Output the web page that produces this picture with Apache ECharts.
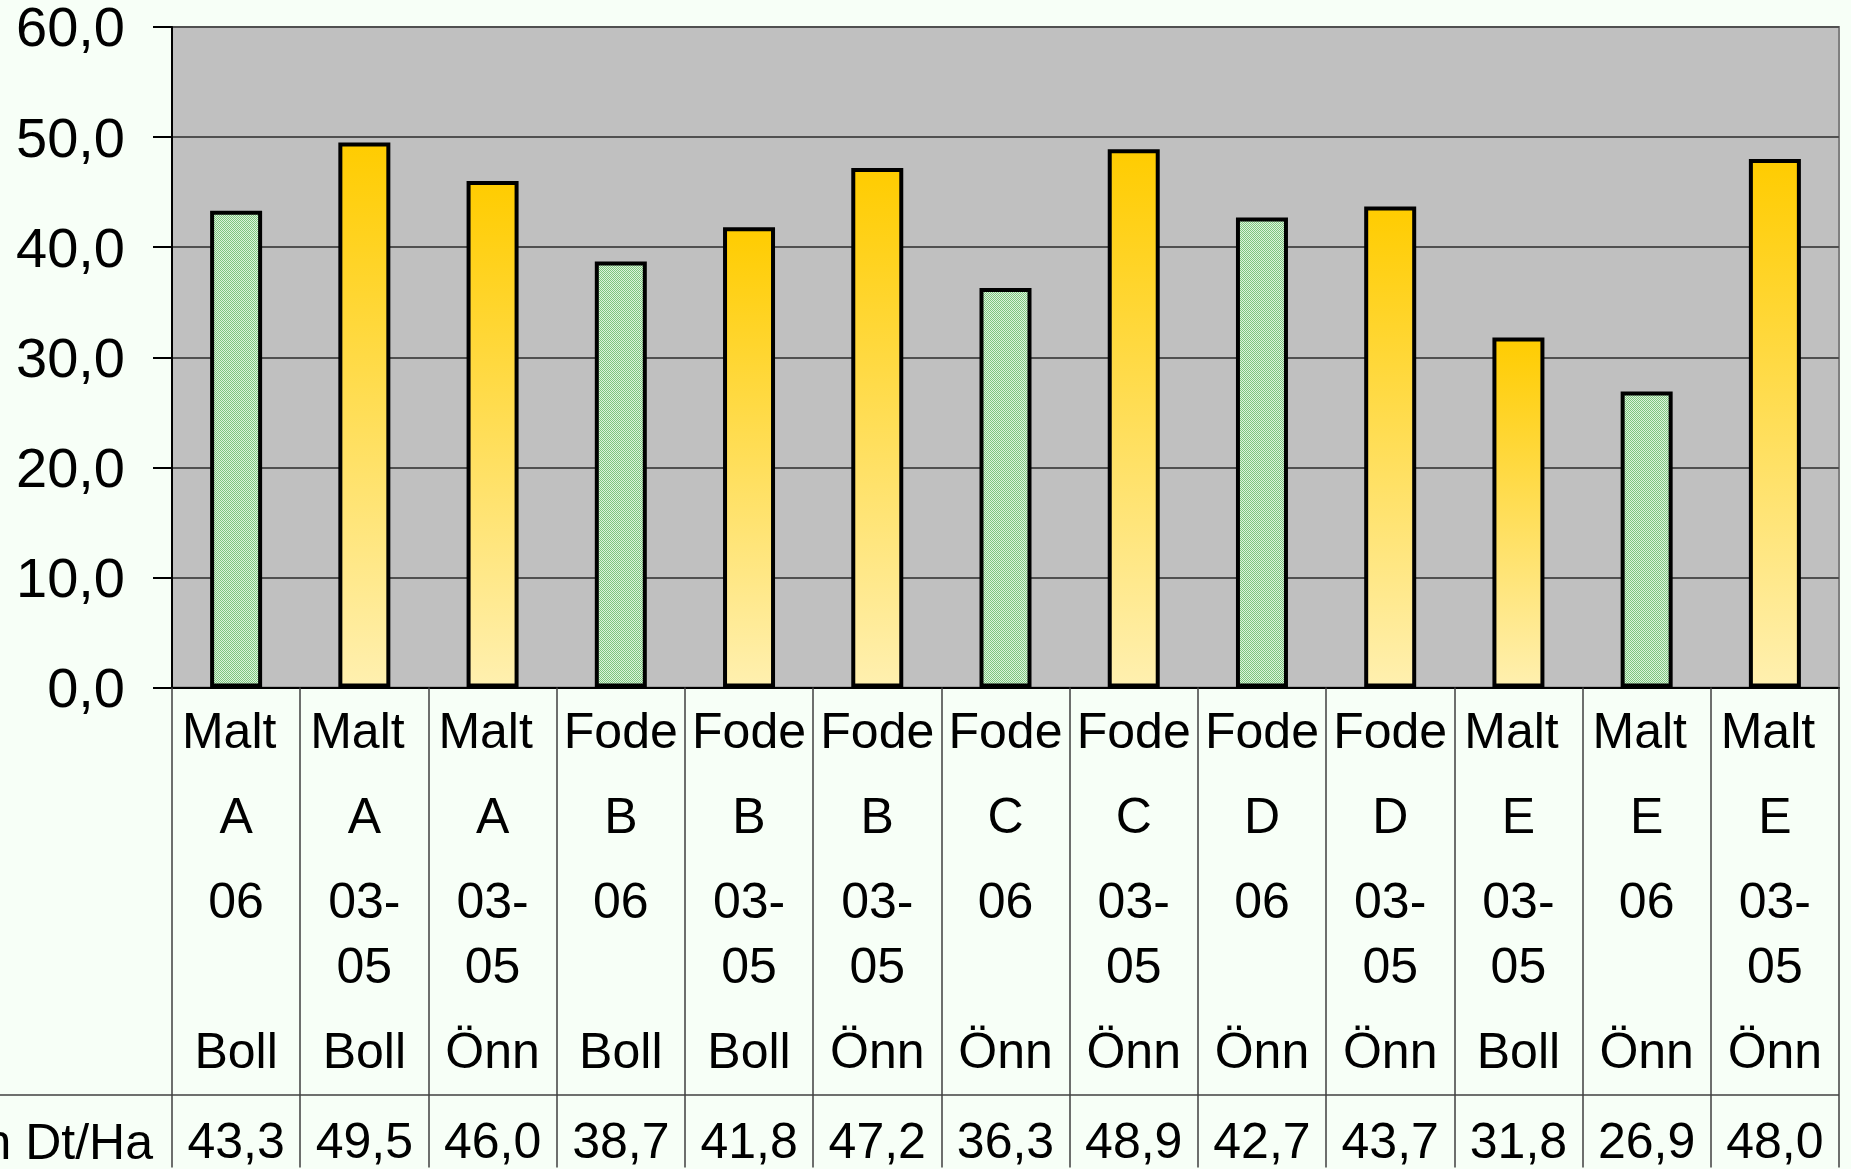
<!DOCTYPE html>
<html>
<head>
<meta charset="utf-8">
<title>Skörd korn</title>
<script src="https://cdn.jsdelivr.net/npm/echarts@6/dist/echarts.min.js"></script>
<style>
  html, body { margin: 0; padding: 0; background: #f7fff7; }
  #chart { width: 1851px; height: 1169px; }
</style>
</head>
<body>
<div id="chart"></div>
<script>
  // table rows under the bars
  const types  = ['Malt ', 'Malt ', 'Malt ', 'Fode', 'Fode', 'Fode', 'Fode', 'Fode', 'Fode', 'Fode', 'Malt ', 'Malt ', 'Malt '];
  const sorts  = ['A', 'A', 'A', 'B', 'B', 'B', 'C', 'C', 'D', 'D', 'E', 'E', 'E'];
  const years  = ['06', '03-05', '03-05', '06', '03-05', '03-05', '06', '03-05', '06', '03-05', '03-05', '06', '03-05'];
  const places = ['Boll', 'Boll', 'Önn', 'Boll', 'Boll', 'Önn', 'Önn', 'Önn', 'Önn', 'Önn', 'Boll', 'Önn', 'Önn'];
  const yields = [43.3, 49.5, 46.0, 38.7, 41.8, 47.2, 36.3, 48.9, 42.7, 43.7, 31.8, 26.9, 48.0];
  const rowTitle = 'Skörd korn Dt/Ha';
  const yTicks = [0, 10, 20, 30, 40, 50, 60];

  const fmt = v => v.toFixed(1).replace('.', ',');

  // dotted green fill for the 06 bars
  const cv = document.createElement('canvas');
  cv.width = 4; cv.height = 4;
  const cx = cv.getContext('2d');
  cx.fillStyle = '#dcf4dc'; cx.fillRect(0, 0, 4, 4);
  cx.fillStyle = '#7fc47f';
  cx.fillRect(0, 0, 1, 1); cx.fillRect(2, 0, 1, 1);
  cx.fillRect(1, 1, 1, 1); cx.fillRect(3, 1, 1, 1);
  cx.fillRect(0, 2, 1, 1); cx.fillRect(2, 2, 1, 1);
  cx.fillRect(1, 3, 1, 1); cx.fillRect(3, 3, 1, 1);
  const greenFill = { image: cv, repeat: 'repeat' };

  const yellowFill = new echarts.graphic.LinearGradient(0, 0, 0, 1, [
    { offset: 0, color: '#ffcc00' },
    { offset: 1, color: '#fff0b0' }
  ]);

  const barData = yields.map((v, i) => ({
    value: v,
    itemStyle: { color: years[i] === '06' ? greenFill : yellowFill }
  }));

  const txt = { fontFamily: 'Arial, "Liberation Sans", sans-serif', fontSize: 50, color: '#000' };

  const chart = echarts.init(document.getElementById('chart'));
  chart.setOption({
    backgroundColor: '#f7fff7',
    animation: false,
    grid: {
      left: 172, top: 27, right: 12, bottom: 480,
      show: true, backgroundColor: '#c0c0c0', borderColor: '#808080', borderWidth: 2
    },
    xAxis: {
      type: 'category',
      data: types,
      axisLine: { lineStyle: { color: '#000', width: 2 } },
      axisTick: { show: true, interval: 0, length: 480, lineStyle: { color: '#404040', width: 1.5 } },
      axisLabel: {
        interval: 0,
        margin: 4,
        formatter: (val, i) => {
          const y = years[i].split('-');
          const l3 = y.length > 1 ? y[0] + '-' : y[0];
          const l4 = y.length > 1 ? y[1] : ' ';
          return '{l1|' + types[i] + '}\n{l2|' + sorts[i] + '}\n{l3|' + l3 + '}\n{l4|' + l4 +
            '}\n{l5|' + places[i] + '}\n{l6|' + fmt(yields[i]) + '}';
        },
        rich: {
          l1: Object.assign({ lineHeight: 85 }, txt),
          l2: Object.assign({ lineHeight: 85 }, txt),
          l3: Object.assign({ lineHeight: 85 }, txt),
          l4: Object.assign({ lineHeight: 45 }, txt),
          l5: Object.assign({ lineHeight: 125 }, txt),
          l6: Object.assign({ lineHeight: 55 }, txt)
        }
      }
    },
    yAxis: {
      type: 'value',
      min: yTicks[0],
      max: yTicks[yTicks.length - 1],
      interval: 10,
      axisLine: { show: true, lineStyle: { color: '#000', width: 2 } },
      axisTick: { show: true, length: 19, lineStyle: { color: '#000', width: 2 } },
      splitLine: { lineStyle: { color: '#505050', width: 2 } },
      axisLabel: {
        margin: 47,
        formatter: v => '{t|' + fmt(v) + '}',
        rich: {
          t: {
            fontFamily: 'Arial, "Liberation Sans", sans-serif',
            fontSize: 56,
            color: '#000',
            padding: [8, 0, 0, 0]
          }
        }
      }
    },
    graphic: [
      { type: 'line', silent: true, shape: { x1: 0, y1: 1095, x2: 1839, y2: 1095 },
        style: { stroke: '#404040', lineWidth: 1.5 } },
      { type: 'text', silent: true, x: 153, y: 1145,
        style: { text: rowTitle, align: 'right', verticalAlign: 'middle',
          font: '50px Arial, "Liberation Sans", sans-serif', fill: '#000' } }
    ],
    series: [{
      type: 'bar',
      data: barData,
      barWidth: 52,
      itemStyle: { borderColor: '#000', borderWidth: 4 }
    }]
  });
</script>
</body>
</html>
